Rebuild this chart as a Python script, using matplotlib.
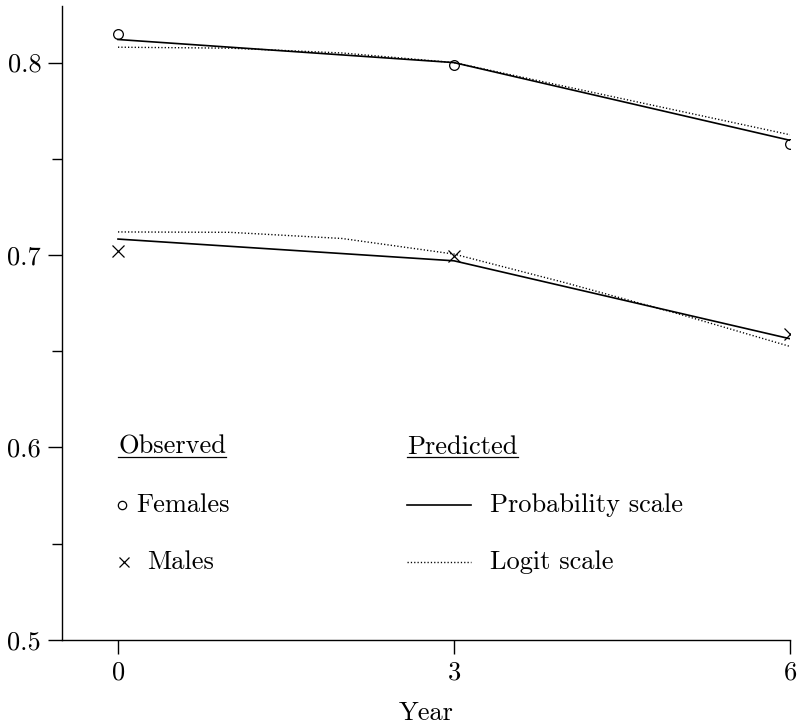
import numpy as np
import matplotlib
matplotlib.use('Agg')
import matplotlib.pyplot as plt

plt.rcParams['font.family'] = 'serif'
plt.rcParams['font.serif'] = ['cmr10']
plt.rcParams['mathtext.fontset'] = 'cm'
plt.rcParams['axes.formatter.use_mathtext'] = True
plt.rcParams['axes.unicode_minus'] = False

# Observed proportions by survey year
years = [0, 3, 6]
females_obs = [0.815, 0.799, 0.7575]
males_obs = [0.702, 0.6995, 0.659]

# Fitted values, probability-scale model
prob_years = [0, 3, 6]
females_prob = [0.812, 0.800, 0.7596]
males_prob = [0.7083, 0.697, 0.6565]

# Fitted values, logit-scale model
logit_years = [0, 1, 2, 3, 4, 5, 6]
females_logit = [0.808, 0.8075, 0.805, 0.800, 0.7875, 0.775, 0.7625]
males_logit = [0.712, 0.7118, 0.7086, 0.7005, 0.6855, 0.6695, 0.6525]


def main():
    fig = plt.figure(figsize=(8, 7.28), dpi=100)
    ax = fig.add_axes([0.0775, 0.121, 0.91, 0.871])

    dotted = (0, (0.9, 1.5))
    for obs, prob, logit, mk, ms in [
            (females_obs, females_prob, females_logit, 'o', 7),
            (males_obs, males_prob, males_logit, 'x', 8.5)]:
        ax.plot(prob_years, prob, color='black', lw=1.2)
        ax.plot(logit_years, logit, color='black', lw=1.0, linestyle=dotted)
        ax.plot(years, obs, linestyle='none', marker=mk, ms=ms,
                mfc='none', mec='black', mew=0.9)

    ax.set_xlim(-0.5, 6)
    ax.set_ylim(0.5, 0.8295)
    ax.set_xticks([0, 3, 6])
    ax.set_yticks([0.5, 0.6, 0.7, 0.8])
    ax.set_yticks([0.55, 0.65, 0.75], minor=True)
    ax.set_yticklabels(['0.5', '0.6', '0.7', '0.8'])
    ax.tick_params(axis='both', which='major', direction='out', length=10,
                   width=1.0, labelsize=19, pad=5)
    ax.tick_params(axis='y', which='minor', direction='out', length=7, width=1.0)
    ax.set_xlabel('Year', fontsize=19, labelpad=12)

    for side in ['top', 'right']:
        ax.spines[side].set_visible(False)
    for side in ['left', 'bottom']:
        ax.spines[side].set_linewidth(1.0)

    # Key drawn inside the axes
    tr = ax.transAxes
    fs = 19
    h1 = ax.text(0.077, 0.3044, 'Observed', transform=tr, fontsize=fs, va='center')
    h2 = ax.text(0.474, 0.3044, 'Predicted', transform=tr, fontsize=fs, va='center')

    ax.plot([0.083], [0.213], transform=tr, marker='o', ms=6, mfc='none',
            mec='black', mew=0.9, clip_on=False)
    ax.text(0.102, 0.213, 'Females', transform=tr, fontsize=fs, va='center')
    ax.plot([0.085], [0.123], transform=tr, marker='x', ms=7.5, mec='black',
            mew=0.9, clip_on=False)
    ax.text(0.117, 0.123, 'Males', transform=tr, fontsize=fs, va='center')

    ax.plot([0.474, 0.562], [0.213, 0.213], transform=tr, color='black', lw=1.2)
    ax.text(0.588, 0.213, 'Probability scale', transform=tr, fontsize=fs, va='center')
    ax.plot([0.474, 0.562], [0.123, 0.123], transform=tr, color='black', lw=1.0,
            linestyle=dotted)
    ax.text(0.588, 0.123, 'Logit scale', transform=tr, fontsize=fs, va='center')

    # Underline the two headings
    fig.canvas.draw()
    renderer = fig.canvas.get_renderer()
    inv = tr.inverted()
    for h in (h1, h2):
        bb = h.get_window_extent(renderer)
        (x0, y0), (x1, _) = inv.transform([(bb.x0, bb.y0), (bb.x1, bb.y1)])
        ax.plot([x0, x1], [y0 + 0.002, y0 + 0.002], transform=tr,
                color='black', lw=0.9)

    fig.savefig('out.png', dpi=100)


if __name__ == '__main__':
    main()
